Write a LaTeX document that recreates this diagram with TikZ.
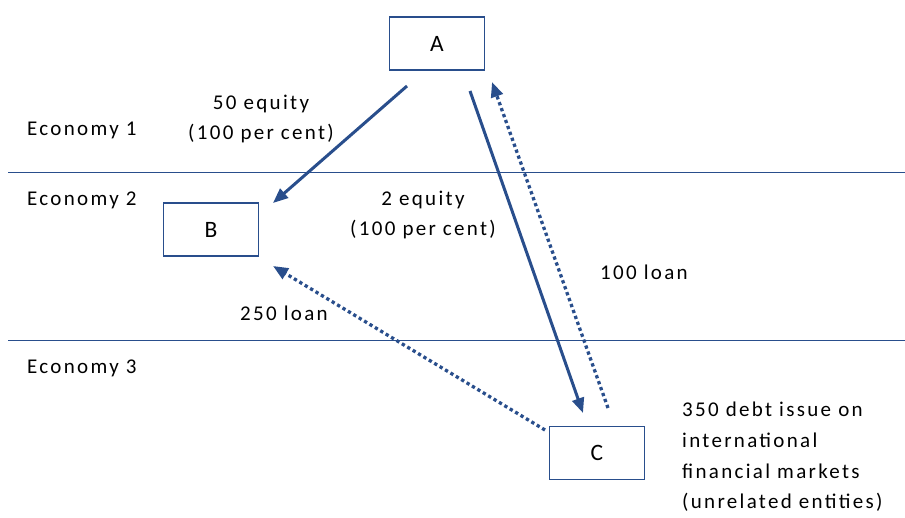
\documentclass[tikz,border=0pt]{standalone}
\usepackage{fontspec}
\setmainfont[LetterSpace=11]{Carlito}
\newfontfamily\boxfont{Carlito}
\usetikzlibrary{arrows.meta}
\definecolor{navy}{RGB}{41,78,140}
\begin{document}
\begin{tikzpicture}[x=1pt,y=-1pt,
  ent/.style={draw=navy,line width=1.6pt,minimum width=95pt,minimum height=53pt,inner sep=0pt,font=\boxfont\fontsize{23.5}{28}\selectfont},
  lbl/.style={inner sep=0pt,font=\fontsize{21}{29.5}\selectfont},
  equity/.style={draw=navy,line width=3pt,-{Triangle[length=15pt,width=12pt]}},
  loan/.style={draw=navy,line width=3.3pt,dash pattern=on 3.3pt off 3pt,-{Triangle[length=15pt,width=12pt]}},
  border/.style={draw=navy,line width=1.3pt}]
\useasboundingbox (0,0) rectangle (905,518);
% boxes
\node[ent] (A) at (437,43.5) {A};
\node[ent] (B) at (211,229.5) {B};
\node[ent] (C) at (597,453) {C};
% economy borders
\coordinate (l1w) at (8,172.5);
\coordinate (l1e) at (905,172.5);
\coordinate (l2w) at (8,340.5);
\coordinate (l2e) at (905,340.5);
\draw[border] (l1w) -- (l1e);
\draw[border] (l2w) -- (l2e);
% economy labels
\node[lbl,anchor=west] (e1) at (27,130) {Economy 1};
\node[lbl,anchor=west] (e2) at (27,200) {Economy 2};
\node[lbl,anchor=west] (e3) at (27,368) {Economy 3};
% connector ends
\coordinate (ab0) at (407,86);
\coordinate (ab1) at (273,203);
\coordinate (ac0) at (470,91);
\coordinate (ac1) at (583,413);
\coordinate (ca0) at (608,408);
\coordinate (ca1) at (492,82);
\coordinate (cb0) at (545,430);
\coordinate (cb1) at (273,266);
\draw[equity] (ab0) -- (ab1);
\draw[equity] (ac0) -- (ac1);
\draw[loan] (ca0) -- (ca1);
\draw[loan] (cb0) -- (cb1);
% labels
\node[lbl,align=center] (l50) at (261,119) {50 equity\\(100 per cent)};
\node[lbl,align=center] (l2) at (423,215) {2 equity\\(100 per cent)};
\node[lbl,anchor=west] (l100) at (600,272) {100 loan};
\node[lbl,anchor=west] (l250) at (240,313) {250 loan};
\node[lbl,align=left,anchor=north west,font=\fontsize{21}{30.7}\selectfont] (l350) at (682,402) {350 debt issue on\\international\\financial markets\\(unrelated entities)};
\end{tikzpicture}
\end{document}
